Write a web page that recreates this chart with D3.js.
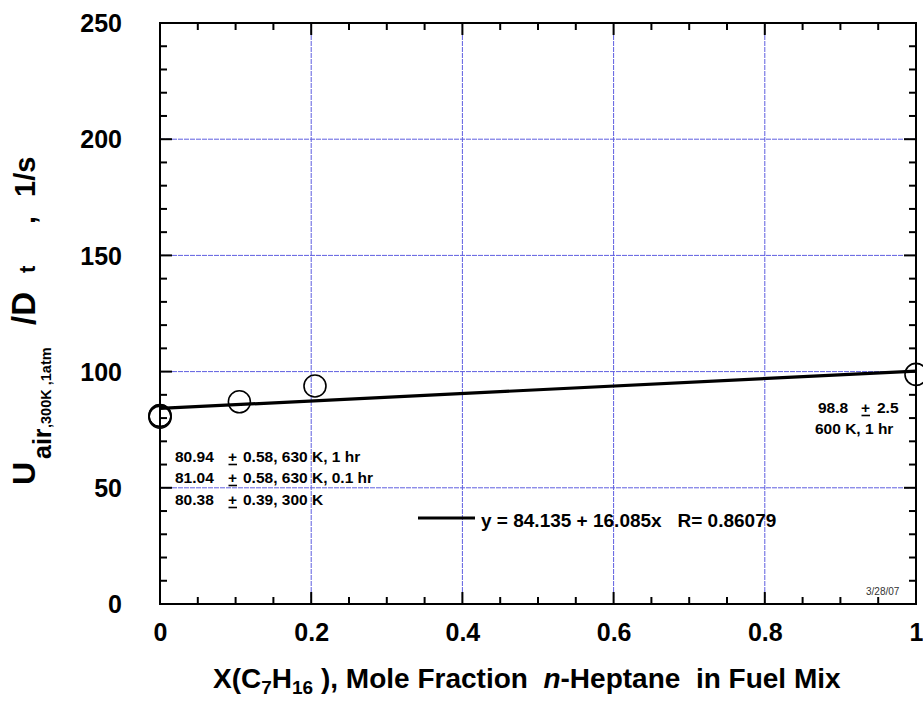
<!DOCTYPE html>
<html>
<head>
<meta charset="utf-8">
<script src="https://cdn.jsdelivr.net/npm/d3@7"></script>
<style>
  html, body { margin: 0; padding: 0; background: #fff; }
  svg { display: block; font-family: Arial, "Liberation Sans", sans-serif; font-weight: bold; }
</style>
</head>
<body>
<svg id="chart" width="923" height="704"></svg>
<script>
// Measured strain rate vs. n-heptane mole fraction
const moleFraction = [0, 0, 0, 0.105, 0.205, 1];
const strainRate   = [80.94, 81.04, 80.38, 87.0, 93.8, 98.8];

// Linear fit reported on the chart
const fitIntercept = 84.135;
const fitSlope = 16.085;
const fitR = 0.86079;

const xTickValues = [0, 0.2, 0.4, 0.6, 0.8, 1];
const xTickLabels = ["0", "0.2", "0.4", "0.6", "0.8", "1"];
const yTickValues = [0, 50, 100, 150, 200, 250];
const yTickLabels = ["0", "50", "100", "150", "200", "250"];

const leftNotes = [
  ["80.94", "0.58, 630 K, 1 hr"],
  ["81.04", "0.58, 630 K, 0.1 hr"],
  ["80.38", "0.39, 300 K"]
];
const rightNotes = ["98.8", "2.5", "600 K, 1 hr"];

const W = 923, H = 704;
const margin = { left: 160, right: 7, top: 23, bottom: 100 };
const svg = d3.select("#chart");
const FONT = "Arial, 'Liberation Sans', sans-serif";

const x = d3.scaleLinear().domain([0, 1]).range([margin.left, W - margin.right]);
const y = d3.scaleLinear().domain([0, 250]).range([H - margin.bottom, margin.top]);

const gridColor = "#5e5ee0";

// Grid lines
const grid = svg.append("g");
grid.selectAll("line.gx").data(xTickValues.slice(1, -1)).join("line")
  .attr("x1", d => x(d)).attr("x2", d => x(d))
  .attr("y1", y(0)).attr("y2", y(250))
  .attr("stroke", gridColor).attr("stroke-width", 1)
  .attr("stroke-dasharray", "5,1");
grid.selectAll("line.gy").data(yTickValues.slice(1, -1)).join("line")
  .attr("x1", x(0)).attr("x2", x(1))
  .attr("y1", d => y(d)).attr("y2", d => y(d))
  .attr("stroke", gridColor).attr("stroke-width", 1)
  .attr("stroke-dasharray", "5,1");

// Inward ticks on all four sides: minor every 0.05 / 10, major every 0.2 / 50
const xMinor = d3.range(0, 1.0001, 0.05);
const yMinor = d3.range(0, 250.001, 10);
const isMajorX = v => Math.abs(v / 0.2 - Math.round(v / 0.2)) < 1e-6;
const isMajorY = v => Math.abs(v / 50 - Math.round(v / 50)) < 1e-6;
const ticks = svg.append("g").attr("stroke", "#000").attr("stroke-width", 2);
xMinor.forEach(v => {
  const len = isMajorX(v) ? 12 : 7;
  ticks.append("line").attr("x1", x(v)).attr("x2", x(v)).attr("y1", y(0)).attr("y2", y(0) - len);
  ticks.append("line").attr("x1", x(v)).attr("x2", x(v)).attr("y1", y(250)).attr("y2", y(250) + len);
});
yMinor.forEach(v => {
  const len = isMajorY(v) ? 12 : 7;
  ticks.append("line").attr("x1", x(0)).attr("x2", x(0) + len).attr("y1", y(v)).attr("y2", y(v));
  ticks.append("line").attr("x1", x(1)).attr("x2", x(1) - len).attr("y1", y(v)).attr("y2", y(v));
});

// Frame
svg.append("rect")
  .attr("x", x(0)).attr("y", y(250))
  .attr("width", x(1) - x(0)).attr("height", y(0) - y(250))
  .attr("fill", "none").attr("stroke", "#000").attr("stroke-width", 2);

// Axes (labels only; ticks drawn above)
const xAxis = d3.axisBottom(x).tickValues(xTickValues)
  .tickFormat((d, i) => xTickLabels[i]).tickSize(0).tickPadding(0);
svg.append("g").attr("transform", `translate(0,${y(0)})`).call(xAxis)
  .call(g => g.select(".domain").remove())
  .call(g => g.selectAll("text").attr("font-size", 25).attr("font-weight", "bold")
    .attr("font-family", FONT).attr("fill", "#000").attr("dy", null).attr("y", 37));

const yAxis = d3.axisLeft(y).tickValues(yTickValues)
  .tickFormat((d, i) => yTickLabels[i]).tickSize(0).tickPadding(0);
svg.append("g").attr("transform", `translate(${x(0)},0)`).call(yAxis)
  .call(g => g.select(".domain").remove())
  .call(g => g.selectAll("text").attr("font-size", 25).attr("font-weight", "bold")
    .attr("font-family", FONT).attr("fill", "#000").attr("x", -38).attr("dy", "0.35em"));

// Fit line
const fitLine = d3.line().x(d => x(d)).y(d => y(fitIntercept + fitSlope * d));
svg.append("path").datum([0, 1]).attr("d", fitLine)
  .attr("fill", "none").attr("stroke", "#000").attr("stroke-width", 3.2);

// Data markers
svg.append("g").selectAll("circle")
  .data(moleFraction.map((v, i) => [v, strainRate[i]]))
  .join("circle")
  .attr("cx", d => x(d[0])).attr("cy", d => y(d[1])).attr("r", 11)
  .attr("fill", "none").attr("stroke", "#000").attr("stroke-width", 1.6);

// Plus-minus drawn as underlined plus
function pm(g, px, py, size) {
  g.append("text").attr("x", px).attr("y", py).attr("font-size", size).text("+");
  g.append("line").attr("x1", px + 0.5).attr("x2", px + size * 0.58)
    .attr("y1", py + 2.5).attr("y2", py + 2.5).attr("stroke", "#000").attr("stroke-width", 1.6);
}

const NOTE = 15.5;
const notes = svg.append("g").attr("fill", "#000");
leftNotes.forEach((n, i) => {
  const by = [462, 483, 505][i];
  notes.append("text").attr("x", 175).attr("y", by).attr("font-size", NOTE).text(n[0]);
  pm(notes, 228, by, NOTE);
  notes.append("text").attr("x", 243).attr("y", by).attr("font-size", NOTE).text(n[1]);
});
notes.append("text").attr("x", 818).attr("y", 413).attr("font-size", NOTE).text(rightNotes[0]);
pm(notes, 861, 413, NOTE);
notes.append("text").attr("x", 877).attr("y", 413).attr("font-size", NOTE).text(rightNotes[1]);
notes.append("text").attr("x", 815).attr("y", 434).attr("font-size", NOTE).text(rightNotes[2]);

// Legend
svg.append("line").attr("x1", 418).attr("x2", 475).attr("y1", 518).attr("y2", 518)
  .attr("stroke", "#000").attr("stroke-width", 3.2);
svg.append("text").attr("x", 481).attr("y", 527).attr("font-size", 19)
  .attr("xml:space", "preserve")
  .text(`y = ${fitIntercept} + ${fitSlope}x   R= ${fitR}`);

// Date stamp
svg.append("text").attr("x", 866).attr("y", 595).attr("font-size", 10)
  .attr("font-weight", "normal").attr("fill", "#333").text("3/28/07");

// X axis title
const xt = svg.append("text").attr("x", 213).attr("y", 688).attr("font-size", 28)
  .attr("xml:space", "preserve");
xt.append("tspan").text("X(C");
xt.append("tspan").attr("font-size", 19).attr("dy", 6).text("7");
xt.append("tspan").attr("dy", -6).text("H");
xt.append("tspan").attr("font-size", 19).attr("dy", 6).text("16");
xt.append("tspan").attr("dy", -6).text(" ), Mole Fraction  ");
xt.append("tspan").attr("font-style", "italic").text("n");
xt.append("tspan").text("-Heptane  in Fuel Mix");

// Y axis title (rotated, reading bottom to top)
const yt = svg.append("g").attr("transform", "translate(35,485) rotate(-90)");
const yTitle = [
  { t: "U", at: 0, size: 32, shift: 0 },
  { t: "air", at: 26, size: 25, shift: 16 },
  { t: ",300K ,1atm", at: 57, size: 14.5, shift: 16 },
  { t: "/D", at: 160, size: 33, shift: 0 },
  { t: "t", at: 212, size: 22, shift: 0 },
  { t: ",", at: 261, size: 28, shift: 0 },
  { t: "1/s", at: 288, size: 29, shift: 0 }
];
yTitle.forEach(p => {
  yt.append("text").attr("x", p.at).attr("y", p.shift)
    .attr("font-size", p.size).text(p.t);
});
</script>
</body>
</html>
